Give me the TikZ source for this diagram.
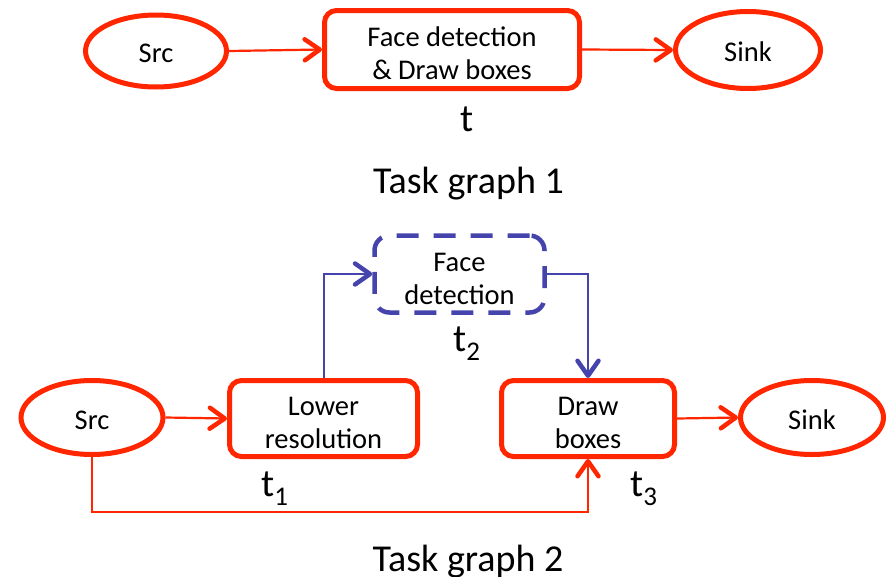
\documentclass[tikz,border=0pt]{standalone}
\usepackage{fontspec}
\setmainfont{Carlito}
\usetikzlibrary{arrows.meta,shapes.geometric}
\definecolor{tred}{RGB}{255,38,0}
\definecolor{tblue}{RGB}{68,68,172}
\newcommand{\tsub}[1]{t\raisebox{-9pt}{\fontsize{27}{27}\selectfont #1}}
% struts that fix the height of the first text line in a box
\newcommand{\upone}{\rule{0pt}{24pt}}
\newcommand{\uptwo}{\rule{0pt}{28pt}}

\begin{document}
\begin{tikzpicture}[x=1pt,y=-1pt,
  tip/.style={-{Straight Barb[length=15pt,width=21pt,line width=4.5pt,round]}},
  redline/.style={draw=tred,line width=2.2pt,tip},
  blueline/.style={draw=tblue,line width=2pt,tip},
  lbl/.style={font=\fontsize{28.5}{33}\selectfont,align=center,inner sep=0pt},
  endpt/.style={lbl,ellipse,draw=tred,line width=5pt},
  task/.style={lbl,rectangle,rounded corners=12pt,draw=tred,line width=5pt},
  opt/.style={lbl,rectangle,rounded corners=15pt,draw=tblue,line width=4.5pt,dash pattern=on 22pt off 15pt},
  tname/.style={font=\fontsize{39}{39}\selectfont,inner sep=0pt,anchor=base west},
  title/.style={font=\fontsize{38}{38}\selectfont,inner sep=0pt,anchor=base}
]
\useasboundingbox (0,0) rectangle (889,576);

% Task graph 1
\node[endpt,minimum width=141pt,minimum height=72pt] (src1) at (156,51) {\upone Src};
\node[task,minimum width=255pt,minimum height=78pt] (ft) at (452,49.5) {\uptwo Face detection\\\& Draw boxes};
\node[endpt,minimum width=145pt,minimum height=77pt] (sink1) at (748,50) {\upone Sink};
\draw[redline] (src1.east) -- (ft.west);
\draw[redline] (ft.east) -- (sink1.west);
\node[tname] (t0) at (460,131) {t};
\node[title] (g1) at (468.5,193) {Task graph 1};

% Task graph 2
\node[endpt,minimum width=142pt,minimum height=74pt] (src2) at (92,417.5) {\upone Src};
\node[task,minimum width=188pt,minimum height=76pt] (lr) at (323.5,418.5) {\uptwo Lower\\resolution};
\node[opt,minimum width=170pt,minimum height=77pt] (fd) at (459.5,274) {\uptwo Face\\detection};
\node[task,minimum width=173pt,minimum height=76pt] (db) at (588,418.5) {\uptwo Draw\\boxes};
\node[endpt,minimum width=143pt,minimum height=74pt] (sink2) at (812,417.5) {\upone Sink};
\coordinate (bus) at (300,512);

\draw[redline] (src2.east) -- (lr.west);
\draw[blueline] (lr.north) |- (fd.west);
\draw[blueline] (fd.east) -| (db.north);
\draw[redline] (db.east) -- (sink2.west);
\draw[redline] (src2.south) |- (bus) -| (db.south);

\node[tname] (t1) at (261,496) {\tsub{1}};
\node[tname] (t2) at (453,351) {\tsub{2}};
\node[tname] (t3) at (630,496) {\tsub{3}};
\node[title] (g2) at (468,571) {Task graph 2};
\end{tikzpicture}
\end{document}
